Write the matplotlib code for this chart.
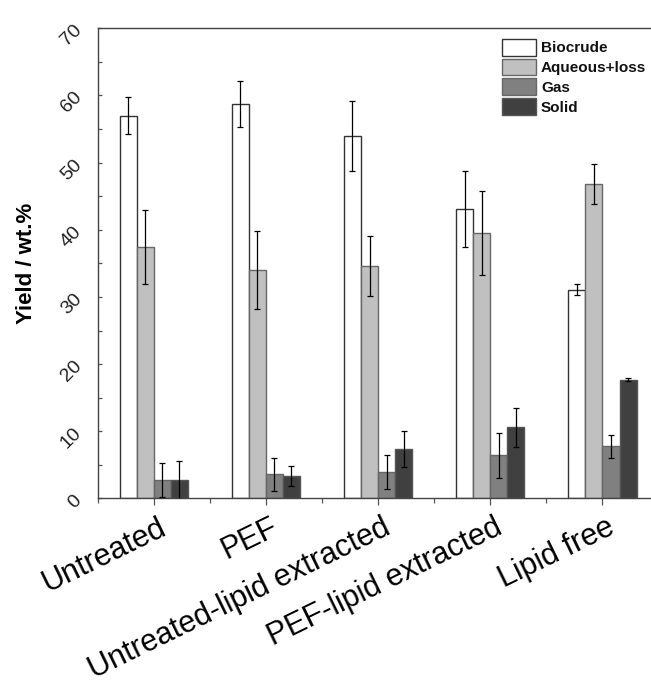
import matplotlib
matplotlib.use("Agg")
import matplotlib.pyplot as plt
import matplotlib.transforms as mtransforms
import numpy as np
from matplotlib.ticker import MultipleLocator, FixedLocator

plt.rcParams['font.family'] = ['Liberation Sans', 'DejaVu Sans']

categories = ["Untreated", "PEF", "Untreated-lipid extracted", "PEF-lipid extracted", "Lipid free"]
series = ["Biocrude", "Aqueous+loss", "Gas", "Solid"]
biocrude = [57.0, 58.7, 54.0, 43.1, 31.1]
biocrude_err = [2.7, 3.4, 5.2, 5.6, 0.8]
aqueous = [37.4, 34.0, 34.6, 39.5, 46.8]
aqueous_err = [5.5, 5.8, 4.4, 6.2, 3.0]
gas = [2.75, 3.6, 3.9, 6.4, 7.8]
gas_err = [2.5, 2.5, 2.5, 3.4, 1.7]
solid = [2.75, 3.4, 7.4, 10.6, 17.7]
solid_err = [2.8, 1.5, 2.7, 2.9, 0.2]

values = [biocrude, aqueous, gas, solid]
errors = [biocrude_err, aqueous_err, gas_err, solid_err]
colors = ["#ffffff", "#c0c0c0", "#808080", "#404040"]
edges = ["#333333", "#666666", "#666666", "#555555"]

fig = plt.figure(figsize=(6.51, 6.84), dpi=100)
ax = fig.add_axes([0.1498, 0.2712, 0.8618, 0.6876])

x = np.arange(len(categories))
w = 0.152
offsets = [-1.5 * w, -0.5 * w, 0.5 * w, 1.5 * w]
for vals, errs, c, ec, off, name in zip(values, errors, colors, edges, offsets, series):
    ax.bar(x + off, vals, width=w, color=c, edgecolor=ec, linewidth=1.0, label=name, zorder=2)
    ax.errorbar(x + off, vals, yerr=errs, fmt='none', ecolor='black', elinewidth=0.9,
                capsize=2.3, capthick=0.9, zorder=3)

ax.set_xlim(-0.5, 4.5)
ax.set_ylim(0, 70)
ax.yaxis.set_major_locator(MultipleLocator(10))
ax.yaxis.set_minor_locator(MultipleLocator(5))
ax.set_xticks(x)
ax.xaxis.set_minor_locator(FixedLocator([-0.5, 0.5, 1.5, 2.5, 3.5]))
ax.set_xticklabels(categories, rotation=26, ha='right', rotation_mode='anchor', fontsize=22)
ax.tick_params(axis='x', which='major', direction='out', length=5, width=0.9, color='#555555', pad=5)
ax.tick_params(axis='x', which='minor', direction='out', length=3.5, width=0.9, color='#555555')
ax.tick_params(axis='y', which='both', direction='in', length=3, width=0.9, color='#555555',
               labelsize=14, pad=9)
shift = mtransforms.ScaledTranslation(0.04, 0.0, fig.dpi_scale_trans)
for lab in ax.get_xticklabels():
    lab.set_transform(lab.get_transform() + shift)
for lab in ax.get_yticklabels():
    lab.set_rotation(45)
    lab.set_color('#222222')

ax.spines['right'].set_visible(False)
for s in ['left', 'top', 'bottom']:
    ax.spines[s].set_color('#444444')
    ax.spines[s].set_linewidth(1.0)

ax.set_ylabel("Yield / wt.%", fontsize=16, fontweight='bold')
ax.yaxis.set_label_coords(-0.108, 0.5)

leg = ax.legend(loc='upper left', bbox_to_anchor=(502 / 651, (684 - 39) / 684),
                bbox_transform=fig.transFigure, frameon=False, borderpad=0, borderaxespad=0,
                handlelength=2.2, handleheight=1.3, labelspacing=0.2, handletextpad=0.35,
                prop={'weight': 'bold', 'size': 11})
for t in leg.get_texts():
    t.set_color('#111111')

fig.savefig("out.png", dpi=100)
